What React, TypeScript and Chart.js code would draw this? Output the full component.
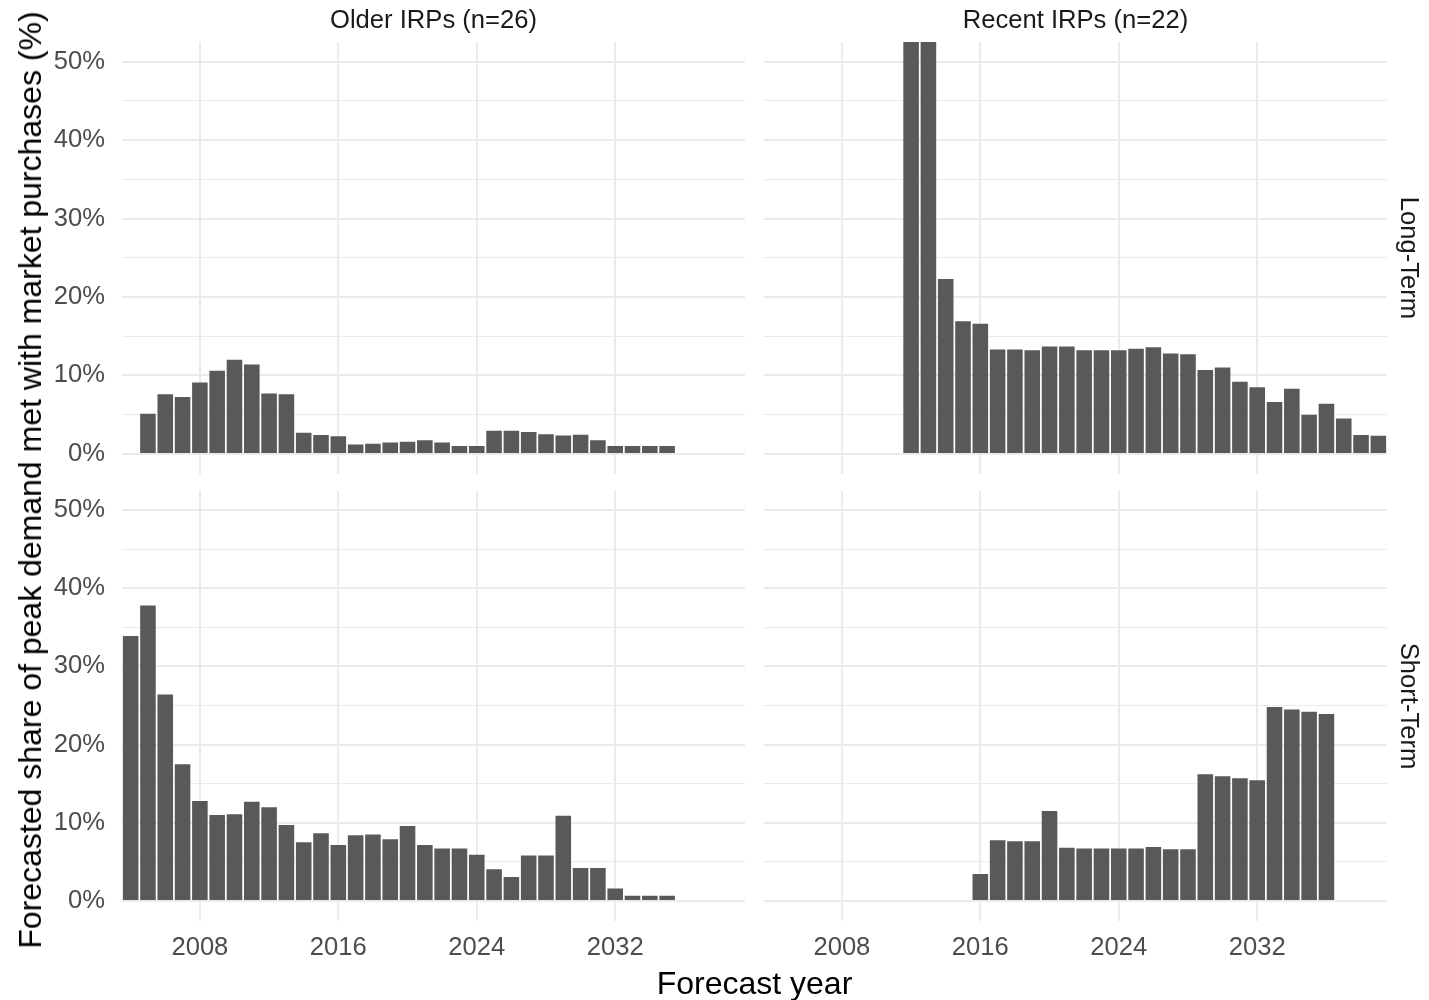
import React, { useEffect, useRef } from "react";
import { Chart, registerables } from "chart.js";

Chart.register(...registerables);

// ---------- data ----------
const years = [
  2004, 2005, 2006, 2007, 2008, 2009, 2010, 2011, 2012, 2013, 2014, 2015,
  2016, 2017, 2018, 2019, 2020, 2021, 2022, 2023, 2024, 2025, 2026, 2027,
  2028, 2029, 2030, 2031, 2032, 2033, 2034, 2035, 2036, 2037, 2038, 2039,
];
const majorYears = [2008, 2016, 2024, 2032];
const yGridValues = [0, 5, 10, 15, 20, 25, 30, 35, 40, 45, 50];

const olderLongStart = 2005;
const olderLongTerm = [
  5.1, 7.6, 7.25, 9.1, 10.6, 12.0, 11.4, 7.7, 7.6, 2.7, 2.4, 2.25, 1.2, 1.3,
  1.45, 1.55, 1.75, 1.45, 1.0, 1.0, 2.95, 2.95, 2.8, 2.5, 2.35, 2.45, 1.75,
  1.0, 1.0, 1.0, 1.0,
];

const recentLongStart = 2012;
const recentLongTerm = [
  60, 60, 22.3, 16.9, 16.6, 13.3, 13.3, 13.2, 13.7, 13.7, 13.2, 13.2, 13.2,
  13.4, 13.6, 12.8, 12.7, 10.7, 11.0, 9.2, 8.5, 6.6, 8.3, 5.0, 6.4, 4.5, 2.4,
  2.3,
];

const olderShortStart = 2004;
const olderShortTerm = [
  33.9, 37.8, 26.4, 17.5, 12.8, 11.0, 11.1, 12.7, 12.0, 9.7, 7.5, 8.65, 7.15,
  8.4, 8.5, 7.9, 9.6, 7.15, 6.7, 6.7, 5.9, 4.05, 3.05, 5.8, 5.8, 10.9, 4.2,
  4.2, 1.6, 0.65, 0.65, 0.65,
];

const recentShortStart = 2016;
const recentShortTerm = [
  3.45, 7.75, 7.65, 7.65, 11.5, 6.8, 6.7, 6.7, 6.7, 6.7, 6.9, 6.6, 6.6, 16.2,
  15.95, 15.7, 15.45, 24.8, 24.5, 24.2, 23.9,
];

const colTitles = ["Older IRPs (n=26)", "Recent IRPs (n=22)"];
const rowTitles = ["Long-Term", "Short-Term"];
const xTitle = "Forecast year";
const yTitle = "Forecasted share of peak demand met with market purchases (%)";

// ---------- styling ----------
const FONT = '"Liberation Sans", Arial, sans-serif';
const GRID = "#EBEBEB";
const BAR = "#595959";
const TICK = "#4D4D4D";

type Rect = { l: number; t: number; r: number; b: number };
type CRect = { l: number; t: number; w: number; h: number };

function Panel(props: {
  rect: Rect;
  canvas: CRect;
  start: number;
  values: number[];
  showX: boolean;
  showY: boolean;
}) {
  const ref = useRef<HTMLCanvasElement | null>(null);
  const { rect, canvas, start, values, showX, showY } = props;

  useEffect(() => {
    if (!ref.current) return;
    const data = years.map((y) => {
      const i = y - start;
      return i >= 0 && i < values.length ? values[i] : null;
    });
    const chart = new Chart(ref.current, {
      type: "bar",
      data: {
        labels: years.map(String),
        datasets: [
          {
            data,
            backgroundColor: BAR,
            borderWidth: 0,
            barPercentage: 0.9,
            categoryPercentage: 1.0,
          },
        ],
      },
      options: {
        animation: false,
        responsive: false,
        maintainAspectRatio: false,
        layout: {
          padding: {
            left: 0,
            top: rect.t - canvas.t,
            right: canvas.l + canvas.w - rect.r,
            bottom: 0,
          },
        },
        plugins: {
          legend: { display: false },
          tooltip: { enabled: false },
          title: { display: false },
        },
        scales: {
          x: {
            type: "category",
            offset: true,
            border: { display: false },
            grid: {
              offset: false,
              drawTicks: false,
              lineWidth: 2,
              color: (ctx: any) =>
                majorYears.includes(years[ctx.index]) ? GRID : "rgba(0,0,0,0)",
            },
            ticks: {
              display: showX,
              autoSkip: false,
              maxRotation: 0,
              minRotation: 0,
              padding: 12,
              color: TICK,
              font: { family: FONT, size: 25.6 },
              callback: (_v: any, i: number) =>
                majorYears.includes(years[i]) ? String(years[i]) : "",
            },
            afterFit: (s: any) => {
              s.height = canvas.t + canvas.h - rect.b;
            },
          },
          y: {
            type: "linear",
            min: -2.5,
            max: 52.5,
            border: { display: false },
            afterBuildTicks: (s: any) => {
              s.ticks = yGridValues.map((v) => ({ value: v }));
            },
            grid: {
              drawTicks: false,
              color: GRID,
              lineWidth: (ctx: any) =>
                ctx.tick && ctx.tick.value % 10 === 0 ? 2 : 1,
            },
            ticks: {
              display: showY,
              padding: 17,
              color: TICK,
              font: { family: FONT, size: 25.6 },
              callback: (v: any) => (Number(v) % 10 === 0 ? `${v}%` : ""),
            },
            afterFit: (s: any) => {
              s.width = rect.l - canvas.l;
            },
          },
        },
      },
    } as any);
    return () => chart.destroy();
  }, []);

  return (
    <canvas
      ref={ref}
      width={canvas.w}
      height={canvas.h}
      style={{
        position: "absolute",
        left: canvas.l,
        top: canvas.t,
        width: canvas.w,
        height: canvas.h,
      }}
    />
  );
}

const LEFT = { l: 122, r: 745 };
const RIGHT = { l: 764, r: 1387 };
const TOP = { t: 42, b: 473.5 };
const BOTTOM = { t: 490.5, b: 920.5 };

export default function App() {
  return (
    <div
      style={{
        position: "absolute",
        left: 0,
        top: 0,
        width: 1429,
        height: 1000,
        background: "#ffffff",
        fontFamily: FONT,
        overflow: "hidden",
      }}
    >
      <Panel
        rect={{ ...LEFT, ...TOP }}
        canvas={{ l: 0, t: 0, w: 785, h: 514 }}
        start={olderLongStart}
        values={olderLongTerm}
        showX={false}
        showY={true}
      />
      <Panel
        rect={{ ...RIGHT, ...TOP }}
        canvas={{ l: 724, t: 0, w: 703, h: 514 }}
        start={recentLongStart}
        values={recentLongTerm}
        showX={false}
        showY={false}
      />
      <Panel
        rect={{ ...LEFT, ...BOTTOM }}
        canvas={{ l: 0, t: 450, w: 785, h: 520 }}
        start={olderShortStart}
        values={olderShortTerm}
        showX={true}
        showY={true}
      />
      <Panel
        rect={{ ...RIGHT, ...BOTTOM }}
        canvas={{ l: 724, t: 450, w: 703, h: 520 }}
        start={recentShortStart}
        values={recentShortTerm}
        showX={true}
        showY={false}
      />

      {/* column strip labels */}
      {[LEFT, RIGHT].map((c, i) => (
        <div
          key={"col" + i}
          style={{
            position: "absolute",
            left: c.l,
            width: c.r - c.l,
            top: 6,
            height: 26,
            lineHeight: "26px",
            fontSize: 25.6,
            color: "#1A1A1A",
            textAlign: "center",
            whiteSpace: "nowrap",
          }}
        >
          {colTitles[i]}
        </div>
      ))}

      {/* row strip labels */}
      {[TOP, BOTTOM].map((r, i) => (
        <div
          key={"row" + i}
          style={{
            position: "absolute",
            left: 1410,
            top: (r.t + r.b) / 2,
            fontSize: 25.6,
            lineHeight: "26px",
            color: "#1A1A1A",
            whiteSpace: "nowrap",
            transform: "translate(-50%, -50%) rotate(90deg)",
          }}
        >
          {rowTitles[i]}
        </div>
      ))}

      {/* x axis title */}
      <div
        style={{
          position: "absolute",
          left: (LEFT.l + RIGHT.r) / 2,
          top: 983,
          fontSize: 32,
          lineHeight: "32px",
          color: "#000000",
          whiteSpace: "nowrap",
          transform: "translate(-50%, -50%)",
        }}
      >
        {xTitle}
      </div>

      {/* y axis title */}
      <div
        style={{
          position: "absolute",
          left: 30,
          top: 480,
          fontSize: 32,
          lineHeight: "32px",
          color: "#000000",
          whiteSpace: "nowrap",
          transform: "translate(-50%, -50%) rotate(-90deg)",
        }}
      >
        {yTitle}
      </div>
    </div>
  );
}
